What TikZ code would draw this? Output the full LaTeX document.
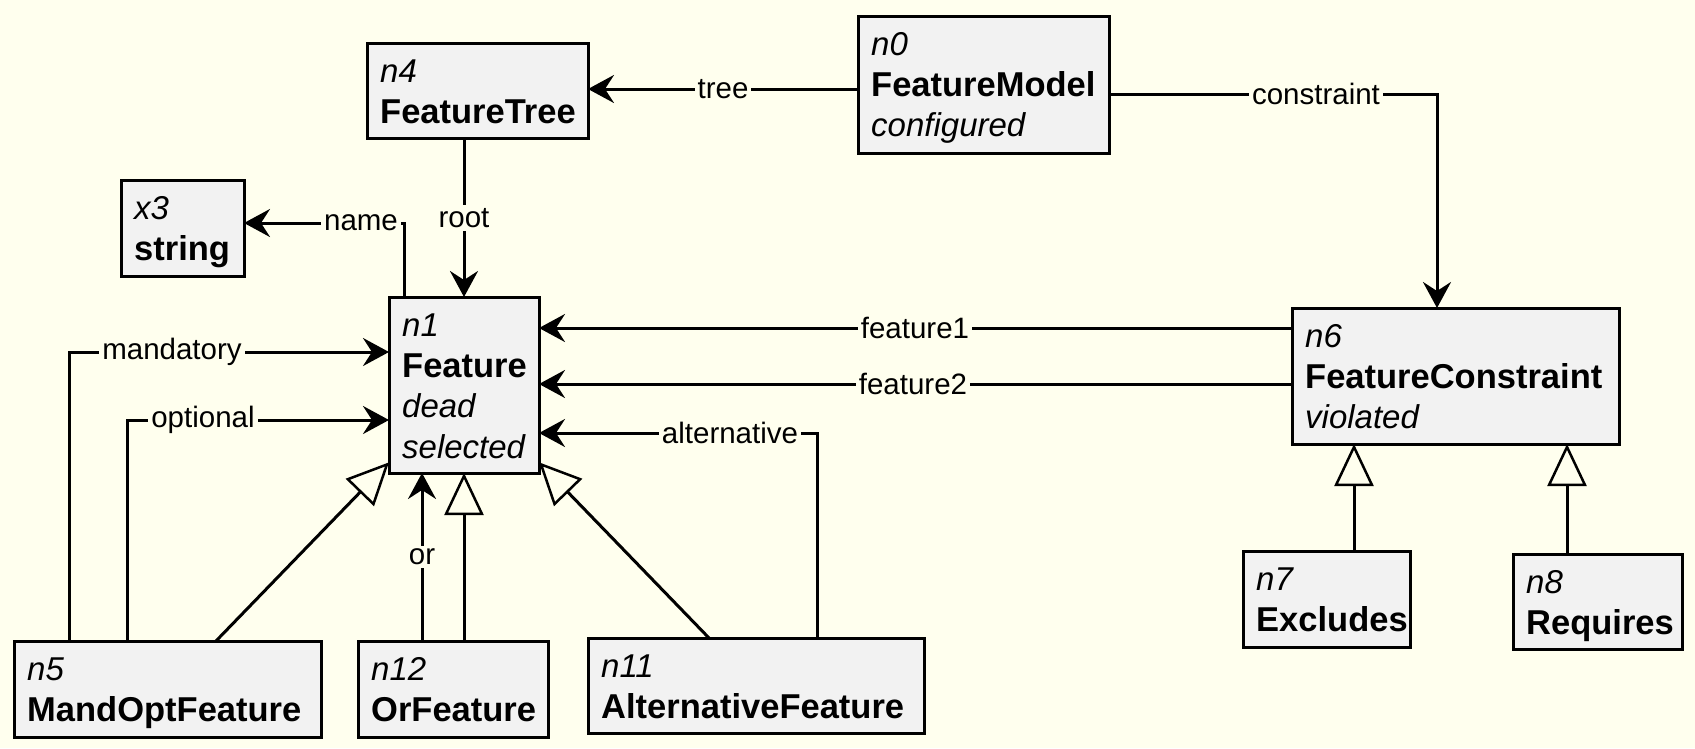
\documentclass[tikz,border=0pt]{standalone}
\usepackage{fontspec}
\setmainfont{Liberation Sans}
\usetikzlibrary{arrows.meta}
\definecolor{bg}{RGB}{255,255,238}
\definecolor{boxfill}{RGB}{242,242,242}
\tikzset{
  umlbox/.style={draw=black, line width=3pt, fill=boxfill, anchor=north west, inner sep=0pt, outer sep=0pt},
  idtxt/.style={anchor=base west, inner sep=0pt, font=\fontsize{33}{40}\selectfont\itshape},
  nametxt/.style={anchor=base west, inner sep=0pt, font=\fontsize{34.5}{40}\selectfont\bfseries},
  attrtxt/.style={idtxt},
  conn/.style={draw=black, line width=3pt},
  assoc/.style={conn, -{Stealth[length=26pt,width=28pt,inset=9pt]}},
  inherit/.style={conn, -{Triangle[length=42pt,width=39pt,fill=bg,line width=2.5pt]}},
  lbl/.style={fill=bg, inner sep=3pt, font=\fontsize{29.5}{32}\selectfont},
}
\begin{document}
\begin{tikzpicture}[x=1pt,y=-1pt]
\fill[bg] (0,0) rectangle (1695,748);
\useasboundingbox (0,0) rectangle (1695,748);

% boxes
\node[umlbox, minimum width=251pt, minimum height=137pt] (n0) at (858,16) {};
\node[umlbox, minimum width=221pt, minimum height=95pt] (n4) at (367,43) {};
\node[umlbox, minimum width=123pt, minimum height=96pt] (x3) at (121,180) {};
\node[umlbox, minimum width=150pt, minimum height=176pt] (n1) at (389,297) {};
\node[umlbox, minimum width=327pt, minimum height=136pt] (n6) at (1292,308) {};
\node[umlbox, minimum width=167pt, minimum height=96pt] (n7) at (1243,551) {};
\node[umlbox, minimum width=169pt, minimum height=95pt] (n8) at (1513,554) {};
\node[umlbox, minimum width=307pt, minimum height=96pt] (n5) at (14,641) {};
\node[umlbox, minimum width=190pt, minimum height=96pt] (n12) at (358,641) {};
\node[umlbox, minimum width=336pt, minimum height=95pt] (n11) at (588,638) {};

% box texts
\node[idtxt] (n0a) at (871,55) {n0};
\node[nametxt] (n0b) at (871,96) {FeatureModel};
\node[attrtxt] (n0c) at (871,136) {configured};

\node[idtxt] (n4a) at (380,82) {n4};
\node[nametxt] (n4b) at (380,123) {FeatureTree};

\node[idtxt] (x3a) at (134,219) {x3};
\node[nametxt] (x3b) at (134,260) {string};

\node[idtxt] (n1a) at (402,336) {n1};
\node[nametxt] (n1b) at (402,377) {Feature};
\node[attrtxt] (n1c) at (402,417) {dead};
\node[attrtxt] (n1d) at (402,458) {selected};

\node[idtxt] (n6a) at (1305,347) {n6};
\node[nametxt] (n6b) at (1305,388) {FeatureConstraint};
\node[attrtxt] (n6c) at (1305,428) {violated};

\node[idtxt] (n7a) at (1256,590) {n7};
\node[nametxt] (n7b) at (1256,631) {Excludes};

\node[idtxt] (n8a) at (1526,593) {n8};
\node[nametxt] (n8b) at (1526,634) {Requires};

\node[idtxt] (n5a) at (27,680) {n5};
\node[nametxt] (n5b) at (27,721) {MandOptFeature};

\node[idtxt] (n12a) at (371,680) {n12};
\node[nametxt] (n12b) at (371,721) {OrFeature};

\node[idtxt] (n11a) at (601,677) {n11};
\node[nametxt] (n11b) at (601,718) {AlternativeFeature};

% routing helpers
\coordinate (tr) at (0,89);
\coordinate (cst) at (1437,94);
\coordinate (nm) at (404,223);
\coordinate (md) at (69,352);
\coordinate (op) at (127,420);
\coordinate (f1) at (0,328);
\coordinate (f2) at (0,384);
\coordinate (al) at (817,433);
\coordinate (orx) at (422,0);
\coordinate (g7) at (1354,0);
\coordinate (g8) at (1567,0);

% associations
\draw[assoc] (n0.west |- tr) -- (n4.east |- tr);
\node[lbl] (ltree) at (723,89) {tree};

\draw[assoc] (n0.east |- cst) -| (n6.north -| cst);
\node[lbl] (lcst) at (1316,94) {constraint};

\draw[assoc] (n4.south -| n1.north) -- (n1.north);
\node[lbl] (lroot) at (464,218) {root};

\draw[assoc] (n1.north -| nm) |- (x3.east |- nm);
\node[lbl] (lname) at (361,223) {name};

\draw[assoc] (n5.north -| md) |- (n1.west |- md);
\node[lbl] (lmand) at (172,352) {mandatory};

\draw[assoc] (n5.north -| op) |- (n1.west |- op);
\node[lbl] (lopt) at (203,420) {optional};

\draw[assoc] (n6.west |- f1) -- (n1.east |- f1);
\node[lbl] (lf1) at (915,328) {feature1};

\draw[assoc] (n6.west |- f2) -- (n1.east |- f2);
\node[lbl] (lf2) at (913,384) {feature2};

\draw[assoc] (n11.north -| al) |- (n1.east |- al);
\node[lbl] (lalt) at (730,433) {alternative};

\draw[assoc] (n12.north -| orx) -- (n1.south -| orx);
\node[lbl] (lor) at (422,557) {or};

% generalisations
\draw[inherit] ([xshift=202pt]n5.north west) -- (n1);
\draw[inherit] (n12.north -| n1.south) -- (n1.south);
\draw[inherit] ([xshift=121pt]n11.north west) -- (n1);
\draw[inherit] (n7.north -| g7) -- (n6.south -| g7);
\draw[inherit] (n8.north -| g8) -- (n6.south -| g8);
\end{tikzpicture}
\end{document}
